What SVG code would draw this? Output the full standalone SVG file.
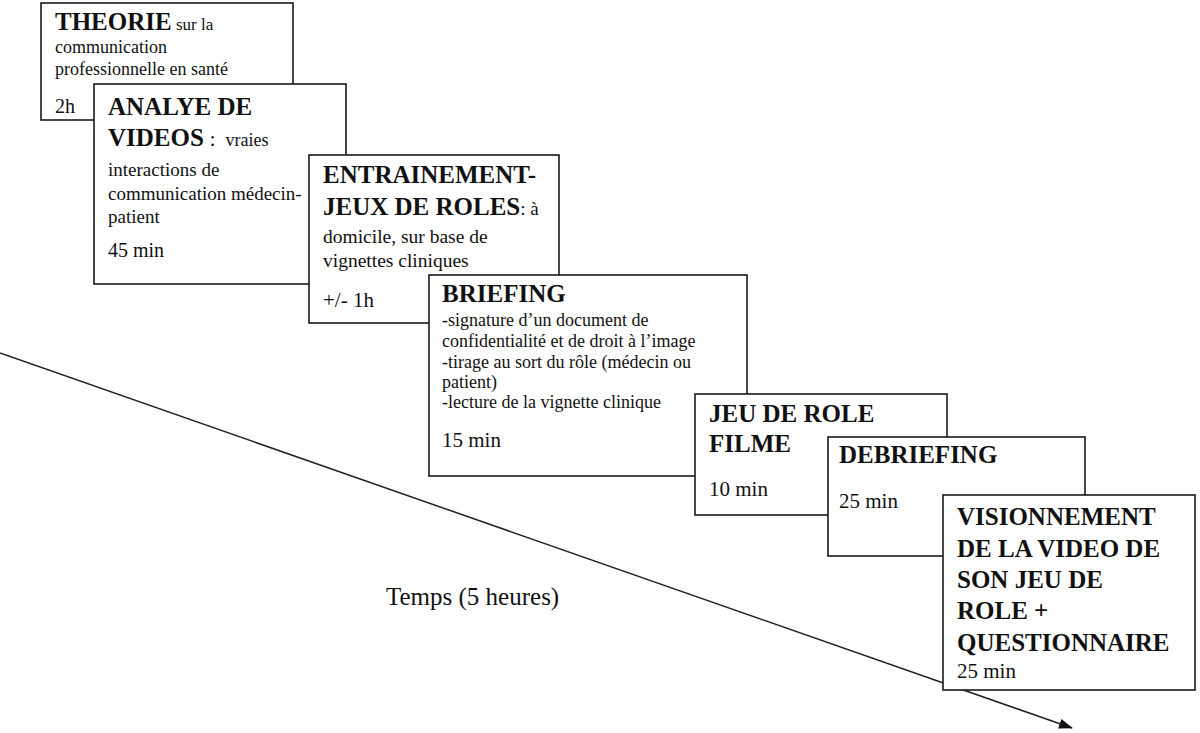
<svg xmlns="http://www.w3.org/2000/svg" width="1200" height="733" viewBox="0 0 1200 733">
<style>
.box{fill:#fff;stroke:#1a1a1a;stroke-width:1.6}
text{font-family:"Liberation Serif","Times New Roman",serif;fill:#111}
.t{font-weight:bold;font-size:25px}
.b{font-size:18px}
.d{font-size:21px}
.axis{stroke:#222;stroke-width:1.5;fill:none}
</style>
<defs>
<marker id="ah" markerWidth="14" markerHeight="10" refX="13" refY="5" orient="auto" markerUnits="userSpaceOnUse">
<path d="M0,0 L14,5 L0,10 Z" fill="#111"/>
</marker>
</defs>
<g id="connectors">
<line class="axis" x1="0" y1="353" x2="1072" y2="728" marker-end="url(#ah)"/>
</g>
<text x="386" y="605" font-size="25">Temps (5 heures)</text>
<g id="theorie">
<rect class="box" x="41" y="3" width="252" height="117"/>
<text x="55" y="30"><tspan class="t">THEORIE</tspan><tspan font-size="17"> sur la</tspan></text>
<text class="b" x="55" y="53">communication</text>
<text class="b" x="55" y="75">professionnelle en santé</text>
<text x="55" y="113" font-size="20">2h</text>
</g>
<g id="analyse">
<rect class="box" x="94" y="84" width="252" height="200"/>
<text class="t" x="108" y="115">ANALYE DE</text>
<text x="108" y="146" xml:space="preserve"><tspan class="t">VIDEOS</tspan><tspan font-size="22"> : </tspan><tspan font-size="18"> vraies</tspan></text>
<text x="108" y="176" font-size="19">interactions de</text>
<text x="108" y="200" font-size="19">communication médecin-</text>
<text x="108" y="223" font-size="19">patient</text>
<text x="108" y="257" font-size="20">45 min</text>
</g>
<g id="entrainement">
<rect class="box" x="309" y="155" width="250" height="168"/>
<text class="t" x="323" y="183">ENTRAINEMENT-</text>
<text x="323" y="215"><tspan class="t">JEUX DE ROLES</tspan><tspan font-size="19">: à</tspan></text>
<text x="323" y="243" font-size="19.5">domicile, sur base de</text>
<text x="323" y="267" font-size="19.5">vignettes cliniques</text>
<text class="d" x="323" y="307">+/- 1h</text>
</g>
<g id="briefing">
<rect class="box" x="429" y="275" width="318" height="201"/>
<text class="t" x="442" y="302">BRIEFING</text>
<text class="b" x="442" y="326">-signature d’un document de</text>
<text class="b" x="442" y="347">confidentialité et de droit à l’image</text>
<text class="b" x="442" y="368">-tirage au sort du rôle (médecin ou</text>
<text class="b" x="442" y="388">patient)</text>
<text class="b" x="442" y="408">-lecture de la vignette clinique</text>
<text class="d" x="442" y="447">15 min</text>
</g>
<g id="jeu-de-role">
<rect class="box" x="695" y="394" width="252" height="121"/>
<text class="t" x="709" y="422">JEU DE ROLE</text>
<text class="t" x="709" y="452">FILME</text>
<text class="d" x="709" y="496">10 min</text>
</g>
<g id="debriefing">
<rect class="box" x="828" y="437" width="257" height="119"/>
<text class="t" x="839" y="463">DEBRIEFING</text>
<text class="d" x="839" y="508">25 min</text>
</g>
<g id="visionnement">
<rect class="box" x="943" y="495" width="252" height="195"/>
<text class="t" x="957" y="525">VISIONNEMENT</text>
<text class="t" x="957" y="557">DE LA VIDEO DE</text>
<text class="t" x="957" y="588">SON JEU DE</text>
<text class="t" x="957" y="619">ROLE +</text>
<text class="t" x="957" y="651">QUESTIONNAIRE</text>
<text class="d" x="957" y="678">25 min</text>
</g>
</svg>
